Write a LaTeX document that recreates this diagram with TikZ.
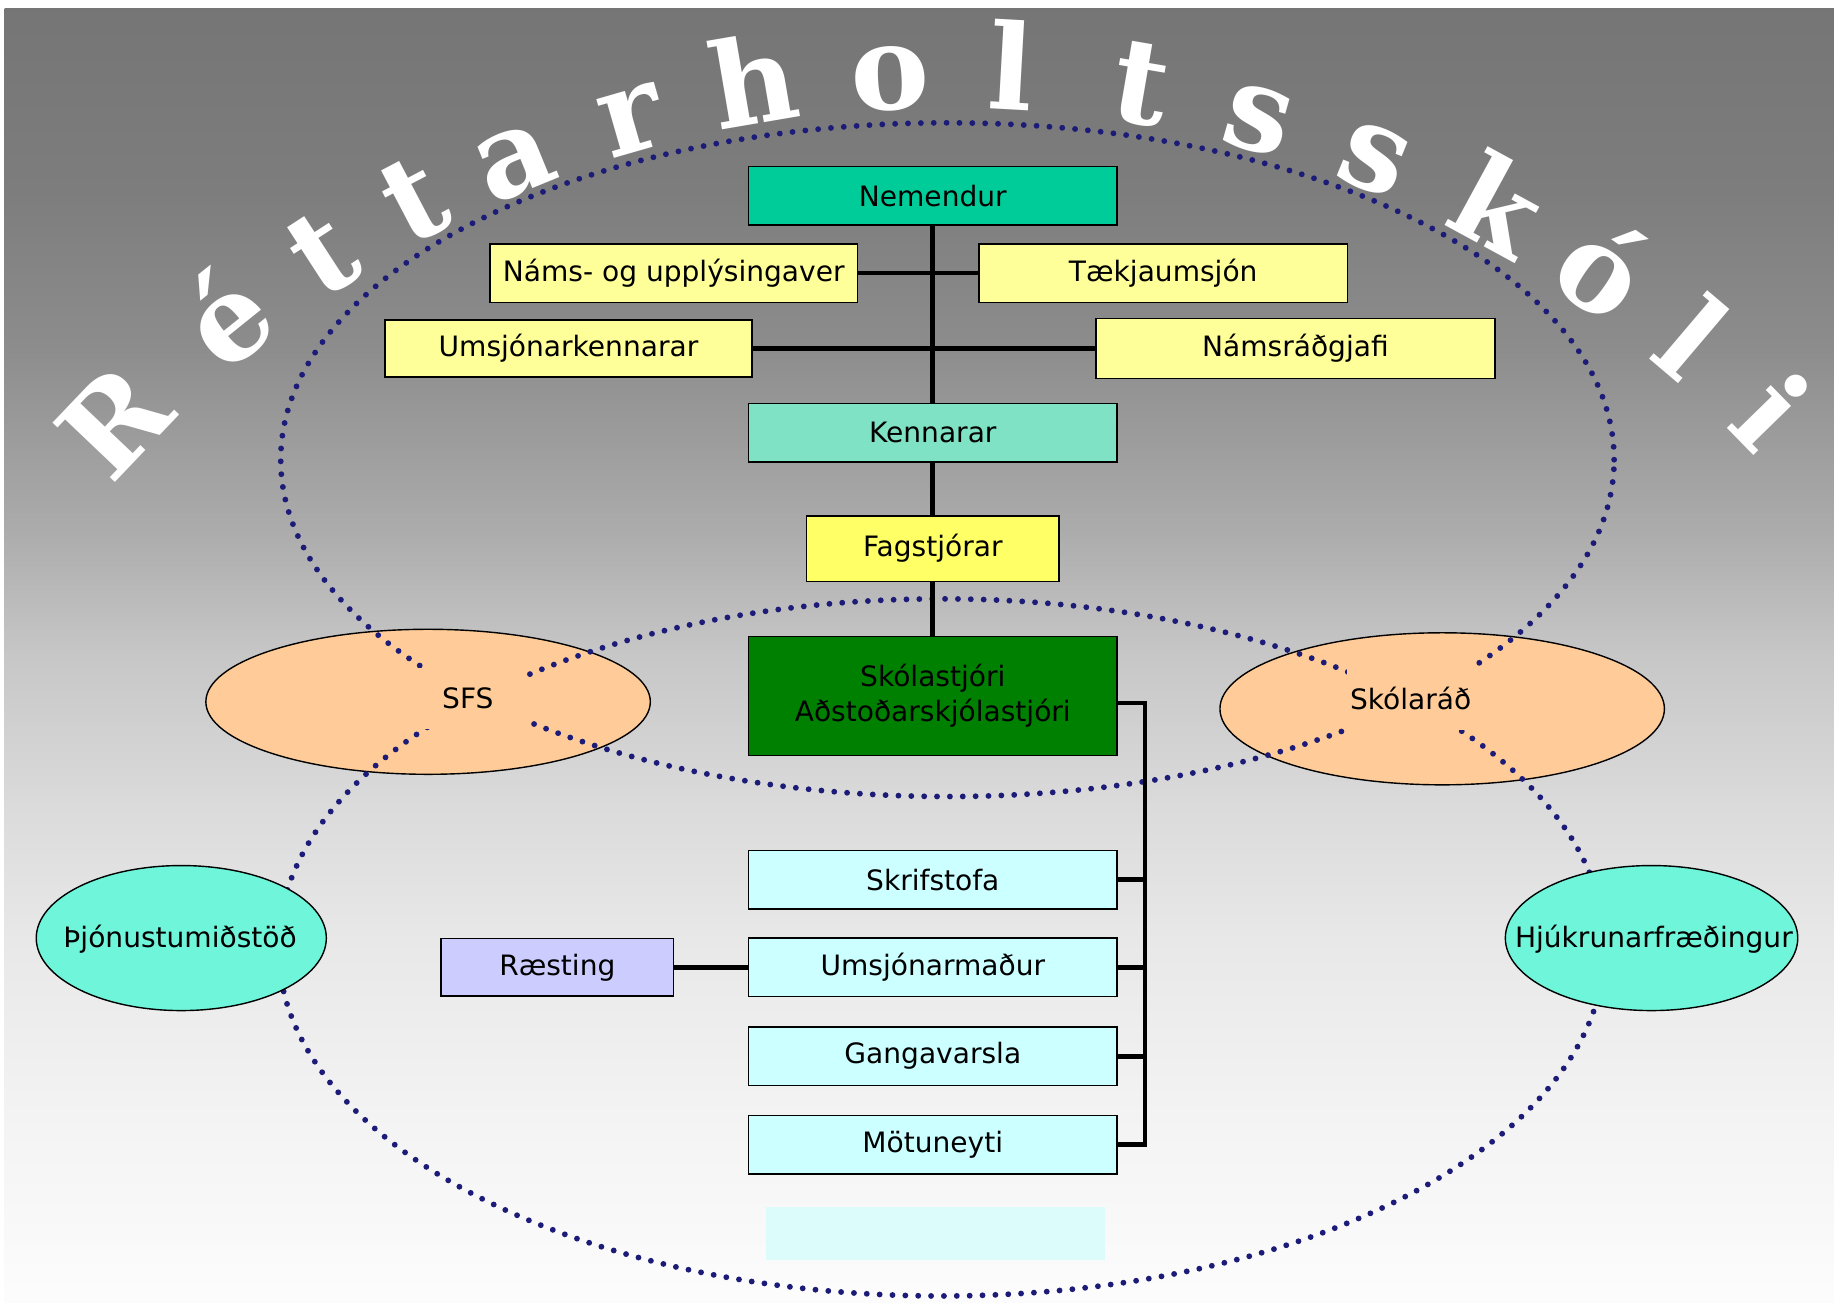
\documentclass[tikz,border=0pt]{standalone}
\usepackage{fontspec}
\setmainfont{DejaVu Sans}
\newfontfamily\titlefont{DejaVu Serif}
\usetikzlibrary{shapes.geometric}

\definecolor{nemteal}{RGB}{0,204,153}
\definecolor{paleyellow}{RGB}{255,255,153}
\definecolor{kenngreen}{RGB}{128,226,196}
\definecolor{fagyellow}{RGB}{255,255,102}
\definecolor{stjgreen}{RGB}{0,128,0}
\definecolor{palecyan}{RGB}{204,255,255}
\definecolor{lavender}{RGB}{204,204,255}
\definecolor{peach}{RGB}{255,204,153}
\definecolor{aqua}{RGB}{110,245,218}
\definecolor{dotblue}{RGB}{28,28,120}
\definecolor{ghostcyan}{RGB}{220,251,251}

% grey at the top, fading to white at the bottom
\pgfdeclareverticalshading{bgfade}{100bp}{%
  rgb(0bp)=(.99,.99,.99); rgb(25bp)=(.99,.99,.99);
  rgb(32bp)=(.955,.955,.955); rgb(39bp)=(.91,.91,.91);
  rgb(44bp)=(.86,.86,.86); rgb(50bp)=(.78,.78,.78);
  rgb(55bp)=(.67,.67,.67); rgb(62bp)=(.55,.55,.55);
  rgb(68bp)=(.49,.49,.49); rgb(75bp)=(.46,.46,.46);
  rgb(100bp)=(.46,.46,.46)}

\begin{document}
\begin{tikzpicture}[x=1pt,y=-1pt,
  every node/.style={font=\fontsize{24}{30}\selectfont},
  orgbox/.style={draw=black, line width=1.3pt, minimum width=315pt,
    minimum height=50pt, inner sep=0pt},
  conn/.style={line width=4pt},
  dotring/.style={draw=dotblue, line width=5pt, line cap=round,
    dash pattern=on 0pt off 11pt},
  oval/.style={ellipse, draw=black, line width=1.2pt, inner sep=0pt},
  tag/.style={inner sep=0pt},
  letter/.style={font=\titlefont\bfseries\fontsize{101}{101}\selectfont,
    text=white, anchor=base, inner sep=0pt}]

  % background
  \fill[white] (0,0) rectangle (1568,1114);
  \shade[shading=bgfade] (4,7) rectangle (1568,1114);
  \fill[ghostcyan] (655,1032) rectangle (945,1077);

  % peach ellipses under the dotted rings
  \node[oval, fill=peach, minimum width=380pt, minimum height=124pt] (sfs) at (366,600) {};
  \node[oval, fill=peach, minimum width=380pt, minimum height=130pt] (skrad) at (1233,606) {};

  % dotted rings
  \draw[dotring] (810,393) ellipse [x radius=570pt, y radius=288pt];
  \draw[dotring] (805,810) ellipse [x radius=567pt, y radius=298pt];

  \node[tag, fill=peach, minimum width=100pt, minimum height=52pt] (sfslbl) at (400,597) {SFS};
  \node[tag, fill=peach, minimum width=108pt, minimum height=54pt] (skradlbl) at (1206,597) {Skólaráð};

  % side ellipses
  \node[oval, fill=aqua, minimum width=248pt, minimum height=124pt] (thjon) at (155,802) {};
  \node[tag] (thjonlbl) at (154,803) {Þjónustumiðstöð};
  \node[oval, fill=aqua, minimum width=250pt, minimum height=124pt] (hjuk) at (1412,802) {};
  \node[tag] (hjuklbl) at (1414,803) {Hjúkrunarfræðingur};

  % title along the arch
  \foreach \ch/\ang [count=\i] in {R/136.4,é/128.8,t/123.0,t/117.7,a/112.3,r/106.1,
      h/99.7,o/92.9,l/86.8,t/80.3,s/74.2,s/68.0,k/61.4,ó/55.3,l/49.7,i/44.3}
    \node[letter, rotate=\ang-90] (ltr\i) at ([shift={(\ang:947pt)}]810,1039) {\ch};

  % organisation chart
  \node[orgbox, fill=nemteal] (nem) at (797.5,167.5) {Nemendur};
  \node[orgbox, fill=paleyellow, minimum width=314pt] (nams) at (576,233.5) {Náms- og upplýsingaver};
  \node[orgbox, fill=paleyellow] (taekja) at (994.5,233.5) {Tækjaumsjón};
  \node[orgbox, fill=paleyellow, minimum width=314pt, minimum height=49pt] (umkenn) at (486,298) {Umsjónarkennarar};
  \node[orgbox, fill=paleyellow, minimum width=341pt, minimum height=51pt] (namsrad) at (1107.5,298) {Námsráðgjafi};
  \node[orgbox, fill=kenngreen] (kenn) at (797.5,370) {Kennarar};
  \node[orgbox, fill=fagyellow, minimum width=216pt, minimum height=56pt] (fag) at (797.5,469) {Fagstjórar};
  \node[orgbox, fill=stjgreen, minimum height=102pt, align=center] (stj) at (797.5,595) {Skólastjóri\\Aðstoðarskjólastjóri};

  \node[orgbox, fill=palecyan] (skrif) at (797.5,752) {Skrifstofa};
  \node[orgbox, fill=palecyan] (umsj) at (797.5,827) {Umsjónarmaður};
  \node[orgbox, fill=palecyan] (gang) at (797.5,903) {Gangavarsla};
  \node[orgbox, fill=palecyan] (mot) at (797.5,978.5) {Mötuneyti};
  \node[orgbox, fill=lavender, minimum width=199pt, minimum height=49pt] (raest) at (476.5,827) {Ræsting};

  \draw[conn] (nem) -- (kenn);
  \draw[conn] (kenn) -- (fag);
  \draw[conn] (fag) -- (stj);
  \draw[conn] (nams) -- (taekja);
  \draw[conn] (umkenn) -- (namsrad);
  \draw[conn] (raest) -- (umsj);

  \coordinate (bus) at (979,601);
  \draw[conn] ([yshift=-6pt]stj.east) -| (bus |- mot.east) -- (mot.east);
  \foreach \b in {skrif,umsj,gang}
    \draw[conn] (\b.east) -- (bus |- \b.east);
\end{tikzpicture}
\end{document}
